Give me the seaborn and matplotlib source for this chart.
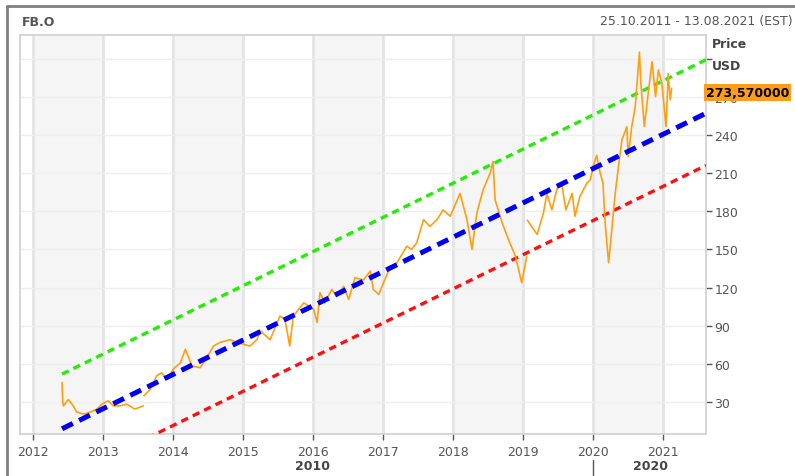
import numpy as np
import pandas as pd
import matplotlib
matplotlib.use('Agg')
import matplotlib.pyplot as plt
import seaborn as sns

# price series (year fraction, USD), three separate pieces
seg1_year = [2012.42, 2012.43, 2012.44, 2012.51, 2012.58, 2012.63, 2012.73, 2012.82, 2012.92,
             2012.99, 2013.08, 2013.15, 2013.25, 2013.34, 2013.46, 2013.58]
seg1_price = [45.4, 30, 27, 32, 27, 22, 20.6, 22, 24.5, 28.4, 31, 27, 27, 28.4, 24.5, 27]

seg2_year = [2013.59, 2013.68, 2013.77, 2013.84, 2013.92, 2014.01, 2014.11, 2014.18, 2014.22,
             2014.27, 2014.39, 2014.49, 2014.58, 2014.68, 2014.82, 2014.91, 2015.10, 2015.20,
             2015.25, 2015.39, 2015.53, 2015.60, 2015.67, 2015.72, 2015.87, 2015.94, 2016.01,
             2016.06, 2016.10, 2016.17, 2016.27, 2016.34, 2016.44, 2016.51, 2016.60, 2016.72,
             2016.82, 2016.86, 2016.94, 2017.01, 2017.08, 2017.20, 2017.34, 2017.41, 2017.48,
             2017.58, 2017.67, 2017.77, 2017.86, 2017.96, 2018.10, 2018.20, 2018.27, 2018.34,
             2018.43, 2018.53, 2018.57, 2018.60, 2018.70, 2018.79, 2018.89, 2018.98, 2019.05]
seg2_price = [35, 40, 50.6, 53, 48, 56, 61, 71.5, 66, 58.5, 57, 65, 74, 77, 79, 77, 74, 79,
              86, 79, 97.6, 95, 74, 97.6, 108, 105.5, 103, 92.5, 116, 108, 118.6, 113, 121,
              110.7, 127.7, 126, 133, 118.6, 114.6, 124, 133, 139.5, 152.5, 150, 155, 173.4,
              168, 173.4, 181, 176, 194, 173, 150, 178.7, 197, 210, 219, 189, 171, 157.8,
              144.7, 123.8, 144]

seg3_year = [2019.06, 2019.20, 2019.29, 2019.34, 2019.41, 2019.48, 2019.55, 2019.61, 2019.70,
             2019.74, 2019.81, 2019.91, 2019.96, 2020.00, 2020.05, 2020.10, 2020.14, 2020.17,
             2020.22, 2020.27, 2020.31, 2020.36, 2020.41, 2020.48, 2020.50, 2020.55, 2020.60,
             2020.66, 2020.68, 2020.73, 2020.79, 2020.84, 2020.89, 2020.93, 2020.98, 2021.04,
             2021.07, 2021.10, 2021.12]
seg3_price = [173, 161.7, 178.7, 194, 181, 197, 202, 181, 194, 176, 191.7, 202, 204.8, 215,
              224, 210, 202, 171, 139.5, 168, 191.7, 215, 236, 246.5, 223, 246.5, 262, 305,
              280.6, 246.5, 275, 297.5, 270, 291, 280.6, 246.5, 288, 267.5, 276.6]

# regression channel (start / end points)
trend_year = [2012.42, 2021.61]
upper_vals = [52, 299]
mid_vals = [9, 257]
lower_vals = [-31, 216]

years = list(range(2012, 2022))
price_ticks = [30, 60, 90, 120, 150, 180, 210, 240, 270, 300]
last_price = 273.57

df = pd.concat([
    pd.DataFrame({'year': seg1_year, 'price': seg1_price, 'seg': 1}),
    pd.DataFrame({'year': seg2_year, 'price': seg2_price, 'seg': 2}),
    pd.DataFrame({'year': seg3_year, 'price': seg3_price, 'seg': 3}),
])

sns.set_theme(style='white')
plt.rcParams['font.family'] = ['DejaVu Sans']

fig = plt.figure(figsize=(7.95, 4.77), dpi=100)
W, H = 795, 477
ax = fig.add_axes([20 / W, (H - 435) / H, 686 / W, 399 / H])

# alternating shaded years + grid
for y in years[::2]:
    ax.axvspan(y, y + 1, color='#f5f5f5', zorder=0, lw=0)
for y in years:
    ax.axvline(y, color='#e4e4e4', lw=2, zorder=0.5)
for p in price_ticks:
    ax.axhline(p, color='#eeeeee', lw=1, zorder=0.5)

sns.lineplot(x=trend_year, y=upper_vals, ax=ax, color='#22ee00', lw=2.4,
             zorder=3).lines[-1].set_dashes([2.2, 1.6])
sns.lineplot(x=trend_year, y=lower_vals, ax=ax, color='#ff1010', lw=2.4,
             zorder=3).lines[-1].set_dashes([2.2, 1.6])
sns.lineplot(data=df, x='year', y='price', units='seg', estimator=None, ax=ax,
             color='#ff9f10', lw=1.2, zorder=4)
sns.lineplot(x=trend_year, y=mid_vals, ax=ax, color='#0000ee', lw=3.6,
             zorder=5).lines[-1].set_dashes([2.4, 1.4])

ax.set_xlim(2011.82, 2021.61)
ax.set_ylim(4.9, 318.5)
ax.set_xlabel('')
ax.set_ylabel('')

ax.set_xticks(years)
ax.set_xticklabels([str(y) for y in years], color='#555555', fontsize=9)
ax.yaxis.tick_right()
ax.set_yticks(price_ticks)
ax.set_yticklabels([str(p) for p in price_ticks[:-1]] + [''], color='#555555', fontsize=9)
ax.tick_params(axis='x', length=4, width=1, color='#555555', pad=4, bottom=True)
ax.tick_params(axis='y', length=4, width=1, color='#555555', pad=2, right=True)
for s in ax.spines.values():
    s.set_color('#d0d0d0')
    s.set_linewidth(1.2)

# header texts
fig.text(22 / W, 1 - 22 / H, 'FB.O', fontsize=9, fontweight='bold', color='#555555', va='center')
fig.text(793 / W, 1 - 22 / H, '25.10.2011 - 13.08.2021 (EST)', fontsize=9, color='#555555',
         va='center', ha='right')
fig.text(712 / W, 1 - 45 / H, 'Price', fontsize=9, fontweight='bold', color='#444444', va='center')
fig.text(712 / W, 1 - 67 / H, 'USD', fontsize=9, fontweight='bold', color='#444444', va='center')

# last price label (sits over the 270 tick label, as in the original)
ax.text(1.0, last_price, '{:.6f}'.format(last_price).replace('.', ','),
        transform=ax.get_yaxis_transform(), fontsize=9, fontweight='bold', color='black',
        va='center', ha='left', zorder=10, clip_on=False,
        bbox=dict(boxstyle='square,pad=0.15', fc='#ff9c1a', ec='none'))

# decade labels under the year axis
fig.text(313 / W, 1 - 467 / H, '2010', fontsize=9, fontweight='bold', color='#444444',
         ha='center', va='center')
fig.text(650 / W, 1 - 467 / H, '2020', fontsize=9, fontweight='bold', color='#444444',
         ha='center', va='center')
fig.add_artist(plt.Line2D([593 / W, 593 / W], [0, 1 - 461 / H], color='#555555', lw=1))

# outer frame
fig.add_artist(plt.Line2D([7 / W, 7 / W], [0, 1 - 7 / H], color='#808080', lw=2))
fig.add_artist(plt.Line2D([7 / W, 1], [1 - 7 / H, 1 - 7 / H], color='#808080', lw=2))

fig.savefig('out.png', dpi=100)
